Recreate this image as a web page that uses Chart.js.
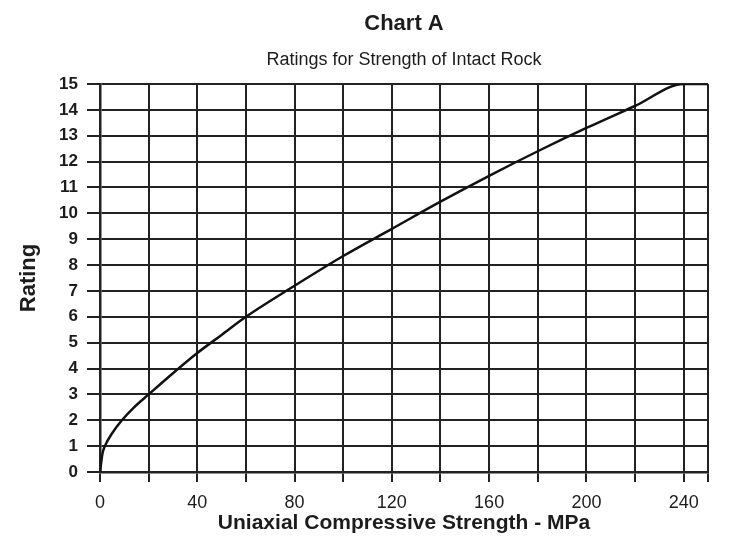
<!DOCTYPE html>
<html>
<head>
<meta charset="utf-8">
<title>Chart A</title>
<script src="https://cdn.jsdelivr.net/npm/chart.js@4/dist/chart.umd.min.js"></script>
<style>
  html, body { margin: 0; padding: 0; background: #ffffff; }
  #wrap { width: 745px; height: 544px; }
</style>
</head>
<body>
<div id="wrap"><canvas id="chart" width="745" height="544"></canvas></div>
<script>
// Uniaxial compressive strength (MPa) and the matching rating
const ucs    = [0, 1, 2, 5, 9, 14, 20, 30, 40, 50, 60, 80, 100, 120, 140, 160, 180, 200, 220, 240, 250];
const rating = [0, 0.7, 1, 1.5, 2, 2.5, 3, 3.82, 4.6, 5.3, 6, 7.2, 8.35, 9.4, 10.45, 11.45, 12.4, 13.3, 14.15, 15, 15];

// Grid positions on the strength axis; only multiples of 40 carry a label
const xGridValues = [0, 20, 40, 60, 80, 100, 120, 140, 160, 180, 200, 220, 240, 250];
const xLabelStep = 40;

const FONT = '"Liberation Sans", Arial, Helvetica, sans-serif';
const INK = '#1c1c1c';

const points = ucs.map((x, i) => ({ x: x, y: rating[i] }));

new Chart(document.getElementById('chart'), {
  type: 'line',
  data: {
    datasets: [{
      data: points,
      borderColor: '#111111',
      borderWidth: 2.5,
      pointRadius: 0,
      fill: false,
      cubicInterpolationMode: 'monotone'
    }]
  },
  options: {
    responsive: false,
    animation: false,
    devicePixelRatio: 1,
    layout: { padding: { left: 0, right: 37, top: 0, bottom: 0 } },
    plugins: {
      legend: { display: false },
      tooltip: { enabled: false },
      title: {
        display: true,
        text: 'Chart A',
        fullSize: false,
        color: INK,
        font: { family: FONT, size: 22, weight: 'bold', lineHeight: 1.2 },
        padding: { top: 11, bottom: 11 }
      },
      subtitle: {
        display: true,
        text: 'Ratings for Strength of Intact Rock',
        fullSize: false,
        color: INK,
        font: { family: FONT, size: 18, weight: 'normal', lineHeight: 1.2 },
        padding: { top: 1, bottom: 13 }
      }
    },
    scales: {
      x: {
        type: 'linear',
        min: 0,
        max: 250,
        afterBuildTicks: (scale) => {
          scale.ticks = xGridValues.map(v => ({ value: v }));
        },
        afterFit: (scale) => { scale.height = 72; },
        ticks: {
          autoSkip: false,
          maxRotation: 0,
          color: INK,
          padding: 10,
          font: { family: FONT, size: 18 },
          callback: (v) => (v % xLabelStep === 0 ? String(v) : '')
        },
        grid: { color: '#222222', lineWidth: 2, tickLength: 10, tickWidth: 2 },
        border: { color: '#222222', width: 2.5 },
        title: {
          display: true,
          text: 'Uniaxial Compressive Strength - MPa',
          color: INK,
          font: { family: FONT, size: 21, weight: 'bold' },
          padding: { top: 0, bottom: 8 }
        }
      },
      y: {
        type: 'linear',
        min: 0,
        max: 15,
        afterFit: (scale) => { scale.width = 100; },
        ticks: {
          stepSize: 1,
          color: INK,
          padding: 9,
          font: { family: FONT, size: 17, weight: 'bold' }
        },
        grid: { color: '#222222', lineWidth: 2, tickLength: 13, tickWidth: 2 },
        border: { color: '#222222', width: 2.5 },
        title: {
          display: true,
          text: 'Rating',
          color: INK,
          font: { family: FONT, size: 22, weight: 'bold' },
          padding: { top: 16, bottom: 0 }
        }
      }
    }
  }
});
</script>
</body>
</html>
